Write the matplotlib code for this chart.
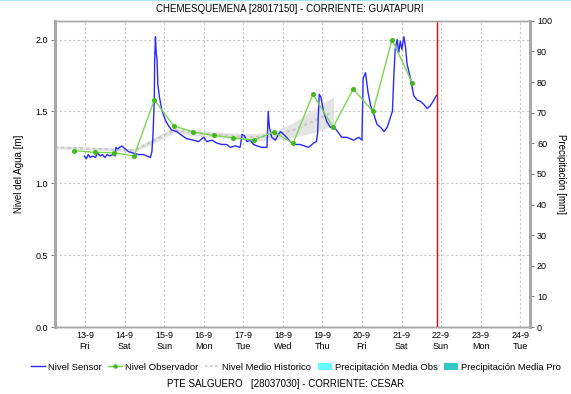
import numpy as np
import matplotlib
matplotlib.use('Agg')
import matplotlib.pyplot as plt
from matplotlib.lines import Line2D
from matplotlib.patches import Patch

plt.rcParams['font.family'] = ['Liberation Sans', 'DejaVu Sans']

# Nivel Sensor (day of September, level m)
sensor_day = [12.98, 13.03, 13.08, 13.13, 13.2, 13.26, 13.32, 13.38, 13.44, 13.5, 13.56, 13.62, 13.7, 13.76,
              13.78, 13.82, 13.93, 14.01, 14.1, 14.22, 14.35, 14.48, 14.56, 14.65, 14.69, 14.72, 14.75, 14.76,
              14.78, 14.8, 14.82, 14.84, 14.88, 14.94, 15.03, 15.11, 15.19, 15.32, 15.41, 15.57, 15.74, 15.87,
              16.0, 16.08, 16.21, 16.33, 16.46, 16.58, 16.67, 16.8, 16.92, 16.97, 17.03, 17.09, 17.18, 17.26,
              17.35, 17.47, 17.6, 17.63, 17.66, 17.72, 17.81, 17.89, 17.94, 18.06, 18.19, 18.27, 18.44, 18.65,
              18.78, 18.85, 18.88, 18.92, 18.96, 19.03, 19.11, 19.2, 19.33, 19.49, 19.62, 19.79, 19.92, 20.0,
              20.03, 20.09, 20.15, 20.22, 20.3, 20.38, 20.47, 20.56, 20.64, 20.72, 20.77, 20.81, 20.84, 20.89,
              20.93, 20.97, 21.01, 21.06, 21.1, 21.14, 21.22, 21.31, 21.39, 21.48, 21.56, 21.65, 21.73, 21.82,
              21.88]
sensor_val = [1.19, 1.17, 1.20, 1.18, 1.19, 1.18, 1.21, 1.19, 1.20, 1.18, 1.20, 1.19, 1.20, 1.19,
              1.25, 1.24, 1.26, 1.24, 1.22, 1.21, 1.20, 1.20, 1.19, 1.18, 1.22, 1.35, 1.58, 1.86,
              2.02, 1.90, 1.86, 1.69, 1.60, 1.51, 1.44, 1.40, 1.37, 1.36, 1.34, 1.31, 1.30, 1.29,
              1.32, 1.29, 1.30, 1.28, 1.27, 1.27, 1.25, 1.26, 1.25, 1.34, 1.33, 1.29, 1.30, 1.27,
              1.26, 1.25, 1.25, 1.50, 1.39, 1.32, 1.30, 1.34, 1.36, 1.33, 1.29, 1.27, 1.27, 1.25,
              1.28, 1.29, 1.35, 1.62, 1.60, 1.50, 1.43, 1.39, 1.38, 1.32, 1.32, 1.30, 1.32, 1.30,
              1.73, 1.77, 1.64, 1.54, 1.48, 1.41, 1.39, 1.36, 1.39, 1.46, 1.50, 1.77, 1.93, 2.00,
              1.91, 1.99, 1.93, 2.02, 1.95, 1.83, 1.74, 1.61, 1.58, 1.57, 1.55, 1.52, 1.54, 1.58,
              1.61]

# Nivel Observador
obs_day = [12.73, 13.24, 13.73, 14.24, 14.75, 15.24, 15.74, 16.25, 16.75, 17.26, 17.77,
           18.26, 18.76, 19.27, 19.78, 20.28, 20.76, 21.27]
obs_val = [1.227, 1.215, 1.213, 1.19, 1.58, 1.40, 1.357, 1.333, 1.317, 1.30, 1.357,
           1.278, 1.62, 1.39, 1.656, 1.50, 2.0, 1.70]

# Nivel Medio Historico with spread
hist_day = [12.24, 12.75, 13.25, 13.75, 14.25, 14.75, 15.25, 15.75, 16.25, 16.75, 17.25,
            17.75, 18.25, 18.75, 19.28]
hist_val = [1.25, 1.245, 1.24, 1.235, 1.23, 1.30, 1.37, 1.35, 1.34, 1.33, 1.32,
            1.33, 1.37, 1.43, 1.50]
hist_spread = [0.01, 0.01, 0.01, 0.01, 0.01, 0.02, 0.02, 0.02, 0.02, 0.02, 0.025,
               0.03, 0.05, 0.08, 0.10]

tick_days = list(range(13, 25))
tick_labels = ['13-9\nFri', '14-9\nSat', '15-9\nSun', '16-9\nMon', '17-9\nTue', '18-9\nWed',
               '19-9\nThu', '20-9\nFri', '21-9\nSat', '22-9\nSun', '23-9\nMon', '24-9\nTue']
now_day = 21.89

fig = plt.figure(figsize=(5.71, 3.94), dpi=100)
ax = fig.add_axes([0.0963, 0.170, 0.832, 0.777])
ax2 = ax.twinx()

spine_col = '#a8a8a8'
grid_kw = dict(color='#c8c8c8', linestyle=(0, (2, 2)), linewidth=0.8)

hv = np.array(hist_val)
hs = np.array(hist_spread)
ax.fill_between(hist_day, hv - hs, hv + hs, color='#e4e4e4', zorder=2, linewidth=0)
ax.plot(hist_day, hist_val, color='#c8c8c8', linestyle=(0, (1.5, 1.5)), linewidth=1.5, zorder=3)
ax.plot(sensor_day, sensor_val, color='#2a2aff', linewidth=1.0, zorder=4)
ax.plot(obs_day, obs_val, color='#7ad84e', linewidth=1.0, zorder=5,
        marker='o', markersize=2.6, markerfacecolor='#44b81c', markeredgecolor='#44b81c')
ax.axvline(now_day, color='red', linewidth=1.0, zorder=6)

ax.set_xlim(12.24, 24.25)
ax.set_ylim(0, 2.13)
ax2.set_ylim(0, 100)
ax.set_xticks(tick_days)
ax.set_xticklabels(tick_labels, fontsize=6.5)
ax.set_yticks([0.0, 0.5, 1.0, 1.5, 2.0])
ax.set_yticklabels(['0.0', '0.5', '1.0', '1.5', '2.0'], fontsize=6.5)
ax2.set_yticks(range(0, 101, 10))
ax2.tick_params(labelsize=6.5, length=3, width=0.6, color='#606060', pad=2)
ax.tick_params(axis='y', length=3, width=0.6, color='#606060', pad=2)
ax.tick_params(axis='x', length=0, pad=3)
ax.grid(True, **grid_kw)
ax.set_axisbelow(True)

for a in (ax, ax2):
    for s in a.spines.values():
        s.set_color(spine_col)
        s.set_linewidth(1.0)
    a.spines['left'].set_linewidth(2.0)
    a.spines['right'].set_linewidth(2.0)
ax.spines['bottom'].set_color('#707070')
ax.spines['bottom'].set_linestyle((0, (1, 1)))

ax.set_ylabel('Nivel del Agua [m]', fontsize=7, labelpad=8)
ax2.set_ylabel('Precipitación [mm]', fontsize=7, rotation=270, labelpad=10)

fig.text(0.507, 0.978, 'CHEMESQUEMENA [28017150] - CORRIENTE: GUATAPURI', ha='center', va='center', fontsize=7)
fig.add_artist(Line2D([0, 1], [0.999, 0.999], color='#a8e4f4', linewidth=1.5, transform=fig.transFigure))

handles = [
    Line2D([], [], color='#2a2aff', linewidth=1.0),
    Line2D([], [], color='#7ad84e', linewidth=1.0, marker='o', markersize=2.2,
           markerfacecolor='#44b81c', markeredgecolor='#44b81c'),
    Line2D([], [], color='#c8c8c8', linestyle=(0, (1.5, 1.5)), linewidth=1.2),
    Patch(facecolor='#66ffff', edgecolor='none'),
    Patch(facecolor='#33c6c6', edgecolor='none'),
]
labels = ['Nivel Sensor', 'Nivel Observador', 'Nivel Medio Historico',
          'Precipitación Media Obs', 'Precipitación Media Pro']
fig.legend(handles, labels, loc='center', bbox_to_anchor=(0.518, 0.068), ncol=5, frameon=False,
           fontsize=6.8, handlelength=1.5, handletextpad=0.3, columnspacing=0.7,
           handleheight=0.9, borderpad=0, borderaxespad=0)

fig.text(0.5, 0.025, 'PTE SALGUERO   [28037030] - CORRIENTE: CESAR', ha='center', va='center', fontsize=7)

fig.savefig('out.png', dpi=100)
